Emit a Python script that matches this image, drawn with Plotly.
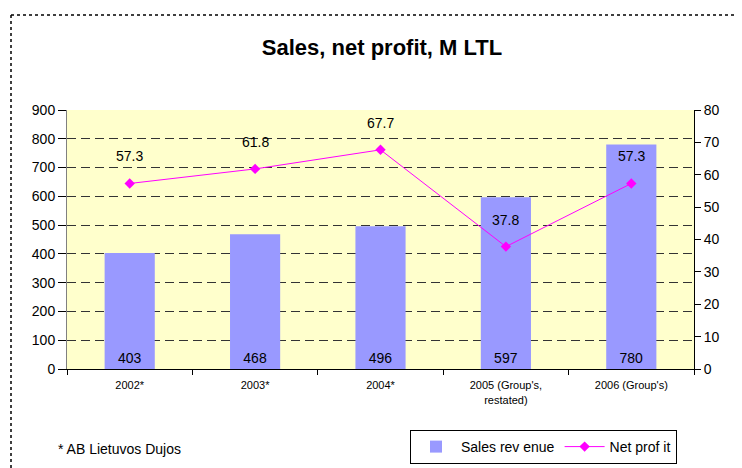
import plotly.graph_objects as go

categories = ["2002*", "2003*", "2004*", "2005 (Group's,<br>restated)", "2006 (Group's)"]
sales_revenue = [403, 468, 496, 597, 780]
net_profit = [57.3, 61.8, 67.7, 37.8, 57.3]

# page has an 8px body margin: work in screen coords and convert
OFF = 8
W, H = 742 - OFF, 468 - OFF
L, T = 67 - OFF, 110 - OFF
R = W - (694 - OFF)
B = H - (369 - OFF)
pw, ph = W - L - R, H - T - B

def px(sx):
    return (sx - OFF - L) / pw

def py(sy):
    return (H - B - (sy - OFF)) / ph

font = "Liberation Sans, Arial, sans-serif"

fig = go.Figure()
fig.add_trace(go.Bar(
    x=categories, y=sales_revenue, name="Sales rev enue",
    marker=dict(color="#9999FF", line=dict(width=0)),
    text=[str(v) for v in sales_revenue], textposition="inside",
    insidetextanchor="start", textangle=0,
    textfont=dict(size=14, color="black", family=font),
    yaxis="y",
))
fig.add_trace(go.Scatter(
    x=categories, y=net_profit, name="Net prof it", mode="lines+markers",
    line=dict(color="#FF00FF", width=1),
    marker=dict(symbol="diamond", size=8, color="#FF00FF"),
    yaxis="y2",
))
for c, v in zip(categories, net_profit):
    fig.add_annotation(x=c, y=v, yref="y2", text=f"{v:.1f}", showarrow=False,
                       yshift=27, font=dict(size=14, color="black", family=font))

fig.add_annotation(x=px(56), y=py(449), xref="paper", yref="paper",
                   text="* AB Lietuvos Dujos", showarrow=False,
                   xanchor="left", yanchor="middle",
                   font=dict(size=14, color="black", family=font))

# dotted figure border
fig.add_shape(type="line", xref="paper", yref="paper",
              x0=px(11), y0=py(15), x1=px(742), y1=py(15),
              line=dict(color="black", width=1.5, dash="dot"))
fig.add_shape(type="line", xref="paper", yref="paper",
              x0=px(11), y0=py(15), x1=px(11), y1=py(468),
              line=dict(color="black", width=1.5, dash="dot"))

fig.update_layout(
    width=W, height=H,
    margin=dict(l=L, r=R, t=T, b=B, autoexpand=False),
    paper_bgcolor="white", plot_bgcolor="#FFFFCC",
    title=dict(text="<b>Sales, net profit, M LTL</b>", x=(382 - OFF) / W, xanchor="center",
               y=1 - (47 - OFF) / H, yanchor="middle", pad=dict(t=0, b=0, l=0, r=0),
               font=dict(size=22, color="black", family=font)),
    font=dict(family=font, color="black"),
    bargap=0.6,
    showlegend=True,
    legend=dict(orientation="h", x=px(410), y=py(430), xanchor="left", yanchor="top",
                bordercolor="black", borderwidth=1, bgcolor="white",
                font=dict(size=14, color="black", family=font),
                itemwidth=40, tracegroupgap=0),
    xaxis=dict(showline=True, linecolor="black", ticks="outside", tickson="boundaries",
               ticklen=5, tickcolor="black", tickfont=dict(size=11, family=font),
               ticklabelstandoff=6,
               showgrid=False, mirror=False, automargin=False),
    yaxis=dict(range=[0, 900], dtick=100, showline=True, linecolor="gray",
               ticks="outside", ticklen=8, tickcolor="black",
               tickfont=dict(size=14, family=font), automargin=False,
               showgrid=True, gridcolor="#333333", griddash="9px,5px", gridwidth=1,
               zeroline=False),
    yaxis2=dict(range=[0, 80], dtick=10, overlaying="y", side="right",
                showline=True, linecolor="black", ticks="outside", ticklen=6,
                tickcolor="black", tickfont=dict(size=14, family=font),
                showgrid=False, zeroline=False, automargin=False),
)

fig.write_html("out.html")
